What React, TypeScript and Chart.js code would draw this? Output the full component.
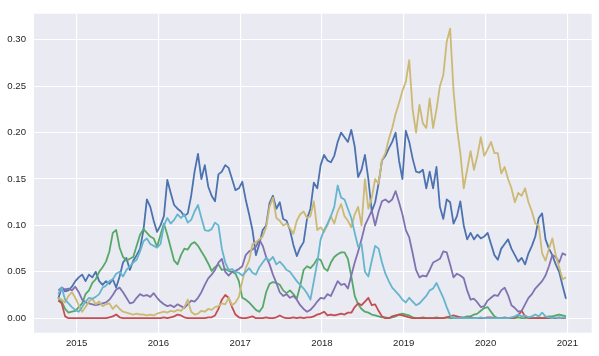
import React, { useEffect, useRef } from "react";
import { Chart, registerables } from "chart.js";

Chart.register(...registerables);

// Half-monthly observations, first one in mid October 2014 (decimal years)
const START_YEAR = 2014.775;
const STEP_YEARS = 1 / 24;

const blueSeries = [
  0.021, 0.033, 0.029, 0.030, 0.034, 0.040, 0.044, 0.047, 0.040, 0.047,
  0.044, 0.050, 0.040, 0.036, 0.040, 0.037, 0.042, 0.033, 0.045, 0.060,
  0.065, 0.052, 0.062, 0.068, 0.075, 0.095, 0.128, 0.120, 0.105, 0.093,
  0.100, 0.110, 0.149, 0.135, 0.122, 0.118, 0.115, 0.110, 0.113, 0.132,
  0.158, 0.177, 0.150, 0.165, 0.142, 0.132, 0.126, 0.155, 0.158, 0.165,
  0.162, 0.150, 0.138, 0.140, 0.147, 0.128, 0.112, 0.095, 0.068, 0.080,
  0.095, 0.100, 0.124, 0.132, 0.118, 0.125, 0.107, 0.105, 0.095, 0.079,
  0.067, 0.076, 0.082, 0.107, 0.118, 0.146, 0.140, 0.165, 0.176, 0.170,
  0.168, 0.175, 0.190, 0.200, 0.195, 0.190, 0.203, 0.185, 0.152, 0.160,
  0.176, 0.150, 0.115, 0.125, 0.145, 0.170, 0.175, 0.183, 0.190, 0.200,
  0.170, 0.150, 0.202, 0.190, 0.172, 0.158, 0.157, 0.160, 0.140, 0.158,
  0.140, 0.163, 0.120, 0.107, 0.128, 0.125, 0.102, 0.110, 0.126, 0.100,
  0.085, 0.092, 0.085, 0.090, 0.086, 0.088, 0.092, 0.080, 0.068, 0.063,
  0.075, 0.080, 0.085, 0.075, 0.068, 0.061, 0.065, 0.058, 0.070, 0.078,
  0.088, 0.108, 0.113, 0.085, 0.075, 0.068, 0.058, 0.050, 0.035, 0.021,
];

const greenSeries = [
  0.020, 0.018, 0.010, 0.006, 0.007, 0.008, 0.012, 0.016, 0.026, 0.030,
  0.038, 0.042, 0.050, 0.055, 0.061, 0.072, 0.092, 0.095, 0.076, 0.066,
  0.062, 0.064, 0.066, 0.078, 0.090, 0.096, 0.092, 0.088, 0.086, 0.077,
  0.090, 0.102, 0.090, 0.076, 0.062, 0.058, 0.068, 0.075, 0.074, 0.080,
  0.082, 0.078, 0.072, 0.066, 0.059, 0.051, 0.055, 0.058, 0.052, 0.053,
  0.051, 0.050, 0.048, 0.040, 0.022, 0.020, 0.017, 0.013, 0.009, 0.007,
  0.012, 0.028, 0.037, 0.039, 0.038, 0.036, 0.030, 0.027, 0.030, 0.026,
  0.021, 0.035, 0.052, 0.056, 0.054, 0.058, 0.064, 0.063, 0.054, 0.051,
  0.060, 0.066, 0.069, 0.071, 0.071, 0.064, 0.045, 0.024, 0.015, 0.010,
  0.007, 0.006, 0.004, 0.003, 0.002, 0.001, 0.001, 0.000, 0.001, 0.002,
  0.004, 0.005, 0.004, 0.003, 0.001, 0.000, 0.000, 0.001, 0.000, 0.000,
  0.000, 0.001, 0.000, 0.000, 0.001, 0.000, 0.000, 0.000, 0.001, 0.001,
  0.002, 0.002, 0.004, 0.005, 0.008, 0.011, 0.012, 0.007, 0.002, 0.000,
  0.000, 0.001, 0.000, 0.000, 0.000, 0.001, 0.000, 0.000, 0.001, 0.000,
  0.000, 0.001, 0.000, 0.001, 0.002, 0.002, 0.003, 0.004, 0.003, 0.002,
];

const redSeries = [
  0.019, 0.016, 0.002, 0.000, 0.000, 0.000, 0.000, 0.000, 0.000, 0.000,
  0.000, 0.000, 0.000, 0.000, 0.000, 0.001, 0.002, 0.004, 0.001, 0.000,
  0.000, 0.000, 0.000, 0.000, 0.000, 0.000, 0.000, 0.000, 0.000, 0.000,
  0.000, 0.001, 0.000, 0.001, 0.002, 0.004, 0.003, 0.001, 0.000, 0.000,
  0.000, 0.000, 0.000, 0.000, 0.001, 0.001, 0.003, 0.010, 0.020, 0.025,
  0.022, 0.012, 0.004, 0.001, 0.000, 0.000, 0.001, 0.002, 0.000, 0.000,
  0.000, 0.001, 0.000, 0.000, 0.001, 0.003, 0.001, 0.000, 0.000, 0.001,
  0.000, 0.001, 0.000, 0.001, 0.001, 0.002, 0.004, 0.005, 0.007, 0.003,
  0.004, 0.003, 0.004, 0.005, 0.004, 0.006, 0.006, 0.012, 0.016, 0.014,
  0.018, 0.022, 0.014, 0.015, 0.008, 0.002, 0.000, 0.000, 0.002, 0.003,
  0.004, 0.003, 0.002, 0.001, 0.000, 0.000, 0.000, 0.000, 0.000, 0.000,
  0.000, 0.000, 0.000, 0.000, 0.001, 0.002, 0.003, 0.002, 0.001, 0.000,
  0.000, 0.001, 0.000, 0.000, 0.000, 0.000, 0.001, 0.001, 0.000, 0.000,
  0.000, 0.000, 0.000, 0.000, 0.001, 0.003, 0.008, 0.002, 0.000, 0.000,
  0.000, 0.000, 0.000, 0.000, 0.000, 0.000, 0.000, 0.001, 0.000, 0.000,
];

const purpleSeries = [
  0.030, 0.033, 0.031, 0.032, 0.030, 0.034, 0.028, 0.020, 0.017, 0.016,
  0.015, 0.014, 0.015, 0.016, 0.017, 0.020, 0.025, 0.031, 0.033, 0.028,
  0.022, 0.016, 0.017, 0.022, 0.026, 0.024, 0.025, 0.023, 0.027, 0.022,
  0.018, 0.015, 0.013, 0.014, 0.012, 0.015, 0.013, 0.011, 0.015, 0.019,
  0.018, 0.022, 0.028, 0.036, 0.043, 0.047, 0.052, 0.060, 0.064, 0.050,
  0.046, 0.050, 0.051, 0.053, 0.056, 0.068, 0.072, 0.074, 0.077, 0.085,
  0.078, 0.066, 0.058, 0.047, 0.038, 0.028, 0.024, 0.026, 0.022, 0.024,
  0.020, 0.014, 0.010, 0.007, 0.009, 0.013, 0.018, 0.022, 0.021, 0.026,
  0.024, 0.032, 0.040, 0.036, 0.037, 0.032, 0.046, 0.060, 0.072, 0.085,
  0.100, 0.108, 0.116, 0.100, 0.115, 0.126, 0.128, 0.125, 0.128, 0.137,
  0.125, 0.112, 0.095, 0.087, 0.070, 0.052, 0.044, 0.046, 0.045, 0.052,
  0.060, 0.062, 0.064, 0.072, 0.071, 0.058, 0.044, 0.048, 0.046, 0.043,
  0.030, 0.020, 0.021, 0.017, 0.012, 0.013, 0.019, 0.022, 0.025, 0.024,
  0.030, 0.033, 0.025, 0.014, 0.011, 0.007, 0.008, 0.015, 0.022, 0.026,
  0.032, 0.036, 0.040, 0.046, 0.056, 0.068, 0.066, 0.060, 0.070, 0.068,
];

const goldSeries = [
  0.022, 0.020, 0.017, 0.024, 0.028, 0.022, 0.014, 0.007, 0.012, 0.018,
  0.021, 0.015, 0.018, 0.013, 0.015, 0.016, 0.010, 0.014, 0.010, 0.007,
  0.006, 0.005, 0.004, 0.005, 0.004, 0.004, 0.003, 0.004, 0.003, 0.005,
  0.006, 0.007, 0.006, 0.008, 0.007, 0.009, 0.008, 0.012, 0.020, 0.007,
  0.004, 0.005, 0.008, 0.007, 0.010, 0.009, 0.012, 0.013, 0.016, 0.015,
  0.022, 0.014, 0.017, 0.023, 0.040, 0.054, 0.062, 0.080, 0.082, 0.085,
  0.088, 0.098, 0.120, 0.130, 0.108, 0.105, 0.100, 0.102, 0.097, 0.091,
  0.105, 0.112, 0.115, 0.108, 0.110, 0.126, 0.095, 0.098, 0.093, 0.100,
  0.110, 0.102, 0.115, 0.123, 0.110, 0.105, 0.098, 0.112, 0.120, 0.100,
  0.150, 0.118, 0.130, 0.150, 0.145, 0.170, 0.178, 0.193, 0.205, 0.220,
  0.232, 0.245, 0.255, 0.278, 0.225, 0.200, 0.230, 0.210, 0.205, 0.237,
  0.205, 0.225, 0.250, 0.262, 0.298, 0.312, 0.245, 0.205, 0.178, 0.140,
  0.160, 0.180, 0.160, 0.175, 0.195, 0.175, 0.182, 0.190, 0.178, 0.178,
  0.156, 0.163, 0.150, 0.140, 0.125, 0.135, 0.132, 0.140, 0.125, 0.115,
  0.102, 0.100, 0.070, 0.062, 0.075, 0.086, 0.068, 0.055, 0.042, 0.044,
];

const cyanSeries = [
  0.026, 0.033, 0.020, 0.016, 0.012, 0.009, 0.007, 0.012, 0.018, 0.022,
  0.021, 0.023, 0.026, 0.033, 0.035, 0.040, 0.042, 0.048, 0.050, 0.045,
  0.052, 0.056, 0.060, 0.063, 0.072, 0.083, 0.086, 0.080, 0.078, 0.076,
  0.080, 0.100, 0.108, 0.102, 0.106, 0.112, 0.108, 0.112, 0.103, 0.106,
  0.115, 0.122, 0.108, 0.095, 0.094, 0.096, 0.103, 0.100, 0.075, 0.060,
  0.052, 0.053, 0.050, 0.049, 0.046, 0.050, 0.054, 0.049, 0.047, 0.055,
  0.060, 0.065, 0.062, 0.066, 0.058, 0.061, 0.057, 0.052, 0.050, 0.045,
  0.040, 0.036, 0.032, 0.027, 0.020, 0.040, 0.060, 0.085, 0.095, 0.102,
  0.110, 0.120, 0.143, 0.130, 0.128, 0.118, 0.108, 0.092, 0.077, 0.080,
  0.050, 0.045, 0.062, 0.078, 0.075, 0.060, 0.048, 0.040, 0.033, 0.029,
  0.025, 0.020, 0.017, 0.022, 0.018, 0.014, 0.016, 0.020, 0.024, 0.030,
  0.032, 0.038, 0.030, 0.022, 0.012, 0.003, 0.000, 0.000, 0.000, 0.000,
  0.000, 0.000, 0.000, 0.000, 0.001, 0.000, 0.000, 0.000, 0.000, 0.000,
  0.000, 0.000, 0.000, 0.001, 0.002, 0.004, 0.002, 0.003, 0.001, 0.002,
  0.004, 0.002, 0.006, 0.002, 0.001, 0.000, 0.001, 0.000, 0.001, 0.000,
];

const xTickYears = [2015, 2016, 2017, 2018, 2019, 2020, 2021];
const yTickValues = [0, 0.05, 0.1, 0.15, 0.2, 0.25, 0.3];

const dates = blueSeries.map((_, i) => START_YEAR + i * STEP_YEARS);

const plotBackground = {
  id: "plotBackground",
  beforeDraw(chart: any) {
    const { ctx, chartArea } = chart;
    ctx.save();
    ctx.fillStyle = "#EAEAF2";
    ctx.fillRect(chartArea.left, chartArea.top, chartArea.width, chartArea.height);
    ctx.restore();
  },
};

export default function App() {
  const canvasRef = useRef<HTMLCanvasElement>(null);

  useEffect(() => {
    const mk = (values: number[], color: string, order: number) => ({
      data: values.map((v, i) => ({ x: dates[i], y: v })),
      borderColor: color,
      backgroundColor: color,
      borderWidth: 1.8,
      pointRadius: 0,
      fill: false,
      tension: 0,
      borderJoinStyle: "round" as const,
      order,
    });
    const tickFont = { family: "'Liberation Sans', Arial, sans-serif", size: 9.6 };
    const chart = new Chart(canvasRef.current as HTMLCanvasElement, {
      type: "line",
      data: {
        datasets: [
          mk(blueSeries, "#4C72B0", 6),
          mk(greenSeries, "#55A868", 5),
          mk(redSeries, "#C44E52", 4),
          mk(purpleSeries, "#8172B2", 3),
          mk(goldSeries, "#CCB974", 2),
          mk(cyanSeries, "#64B5CD", 1),
        ],
      },
      options: {
        responsive: false,
        animation: false,
        layout: { padding: { top: 6.7, right: 7.3, left: 0, bottom: 0 } },
        plugins: { legend: { display: false }, tooltip: { enabled: false } },
        scales: {
          x: {
            type: "linear",
            min: 2014.478,
            max: 2021.298,
            afterBuildTicks: (s: any) => {
              s.ticks = xTickYears.map((v) => ({ value: v }));
            },
            afterFit: (s: any) => {
              s.height = 23.3;
            },
            grid: { color: "#ffffff", lineWidth: 1.1, drawTicks: false },
            border: { display: false },
            ticks: {
              padding: 5,
              color: "#262626",
              font: tickFont,
              maxRotation: 0,
              autoSkip: false,
              callback: (v: any) => String(v),
            },
          },
          y: {
            type: "linear",
            min: -0.0156,
            max: 0.3281,
            afterBuildTicks: (s: any) => {
              s.ticks = yTickValues.map((v) => ({ value: v }));
            },
            afterFit: (s: any) => {
              s.width = 34;
            },
            grid: { color: "#ffffff", lineWidth: 1.1, drawTicks: false },
            border: { display: false },
            ticks: {
              padding: 8,
              color: "#262626",
              font: tickFont,
              autoSkip: false,
              callback: (v: any) => Number(v).toFixed(2),
            },
          },
        },
      },
      plugins: [plotBackground],
    });
    return () => chart.destroy();
  }, []);

  return (
    <div style={{ position: "absolute", left: 0, top: 0, background: "#ffffff" }}>
      <canvas ref={canvasRef} width={599} height={356} style={{ display: "block" }} />
    </div>
  );
}
